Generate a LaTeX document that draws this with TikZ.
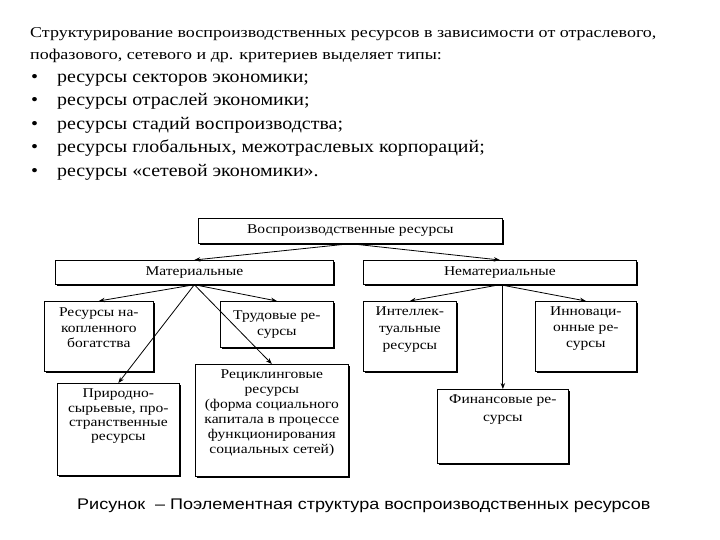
\documentclass[tikz,border=0pt]{standalone}
\usepackage{fontspec}
\setmainfont{Liberation Serif}
\newfontfamily\introfont[FakeStretch=1.2]{Liberation Serif}
\newfontfamily\bulfont[FakeStretch=1.12]{Liberation Serif}
\newfontfamily\boxfont[FakeStretch=1.16]{Liberation Serif}
\newfontfamily\capfont[FakeStretch=1.17]{Liberation Sans}
\usetikzlibrary{arrows.meta,shadows}
\begin{document}
\begin{tikzpicture}[x=1pt,y=-1pt,
  box/.style={draw=black,line width=0.7pt,fill=white,
    drop shadow={shadow xshift=1.2pt,shadow yshift=-1.2pt,opacity=1,fill=black},
    inner sep=0pt,anchor=north west},
  btxt/.style={anchor=north,align=center,inner sep=0pt,font=\boxfont\fontsize{13.4}{15.5}\selectfont},
  arr/.style={line width=0.8pt,-{Stealth[length=6pt,width=4.5pt]}},
  intro/.style={anchor=base west,inner sep=0pt,font=\introfont\fontsize{15}{18}\selectfont},
  bul/.style={anchor=base west,inner sep=0pt,font=\bulfont\fontsize{17.8}{20}\selectfont}]
\useasboundingbox (0,0) rectangle (720,540);
% intro text
\node[intro] (l1) at (30,38) {Структурирование воспроизводственных ресурсов в зависимости от отраслевого,};
\node[intro] (l2) at (30,60) {пофазового, сетевого и др. критериев выделяет типы:};
\foreach \yy/\tt [count=\i] in {83/{ресурсы секторов экономики;},106/{ресурсы отраслей экономики;},130/{ресурсы стадий воспроизводства;},153/{ресурсы глобальных, межотраслевых корпораций;},177/{ресурсы «сетевой экономики».}}{
  \node[bul] (bd\i) at (31,\yy) {•};
  \node[bul] (bt\i) at (57,\yy) {\tt};
}
% boxes
\node[box,minimum width=304,minimum height=25] (top) at (198,218) {};
\node[btxt,anchor=center] at (top.center) {Воспроизводственные ресурсы};
\node[box,minimum width=278,minimum height=24] (mat) at (55,260) {};
\node[btxt,anchor=center] at (mat.center) {Материальные};
\node[box,minimum width=273,minimum height=24] (nem) at (363,260) {};
\node[btxt,anchor=center] at (nem.center) {Нематериальные};
\node[box,minimum width=109,minimum height=70] (b1) at (44,301) {};
\node[btxt] at ([yshift=-7]b1.north) {Ресурсы на-\\копленного\\богатства};
\node[box,minimum width=113,minimum height=46] (b2) at (220,301) {};
\node[btxt,anchor=center] at (b2.center) {Трудовые ре-\\сурсы};
\node[box,minimum width=93,minimum height=70] (b3) at (363,301) {};
\node[btxt,font=\boxfont\fontsize{13.4}{17}\selectfont] at ([yshift=-6]b3.north) {Интеллек-\\туальные\\ресурсы};
\node[box,minimum width=101,minimum height=70] (b4) at (535,301) {};
\node[btxt,font=\boxfont\fontsize{13.4}{16}\selectfont] at ([yshift=-6]b4.north) {Инноваци-\\онные ре-\\сурсы};
\node[box,minimum width=122,minimum height=92] (b5) at (57,383) {};
\node[btxt,font=\boxfont\fontsize{13.4}{14.2}\selectfont] at ([yshift=-6]b5.north) {Природно-\\сырьевые, про-\\странственные\\ресурсы};
\node[box,minimum width=153,minimum height=112] (b6) at (195,364) {};
\node[btxt,font=\boxfont\fontsize{13.4}{15}\selectfont] at ([yshift=-6]b6.north) {Рециклинговые\\ресурсы\\(форма социального\\капитала в процессе\\функционирования\\социальных сетей)};
\node[box,minimum width=131,minimum height=74] (b7) at (437,389) {};
\node[btxt,font=\boxfont\fontsize{13.4}{18}\selectfont] at ([yshift=-6]b7.north) {Финансовые ре-\\сурсы};
% arrows
\draw[arr] (top.south) -- (mat.north);
\draw[arr] (top.south) -- (nem.north);
\draw[arr] (mat.south) -- (b1.north);
\draw[arr] (mat.south) -- (b2.north);
\draw[arr] (mat.south) -- (b6.north);
\draw[arr] (mat.south) -- (b5.north);
\draw[arr] (nem.south) -- (b3.north);
\draw[arr] (nem.south) -- (b4.north);
\draw[arr] (b7.north |- nem.south) -- (b7.north);
% caption
\node[anchor=base west,inner sep=0pt,font=\capfont\fontsize{15.4}{18}\selectfont] (cap) at (77,509) {Рисунок \ – Поэлементная структура воспроизводственных ресурсов};
\end{tikzpicture}
\end{document}
